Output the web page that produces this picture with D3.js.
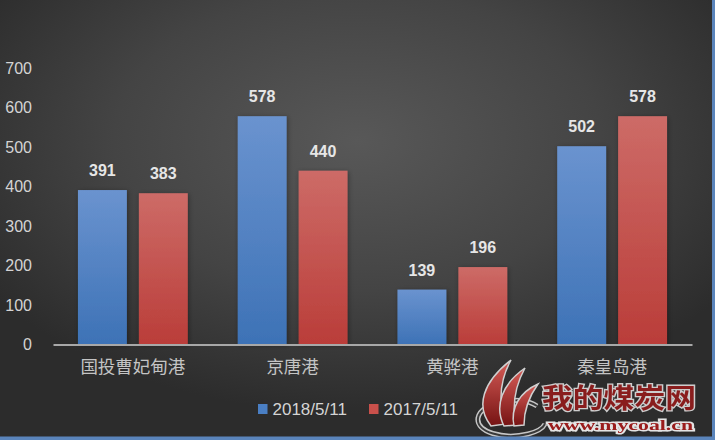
<!DOCTYPE html>
<html>
<head>
<meta charset="utf-8">
<script src="https://cdn.jsdelivr.net/npm/d3@7"></script>
<style>
  html, body { margin: 0; padding: 0; background: #333; }
  svg { display: block; }
</style>
</head>
<body>
<svg id="chart" width="715" height="440"></svg>
<script>
// ---- data ----
const categories = ["国投曹妃甸港", "京唐港", "黄骅港", "秦皇岛港"];
const seriesNames = ["2018/5/11", "2017/5/11"];
const values2018 = [391, 578, 139, 502];
const values2017 = [383, 440, 196, 578];
const yTicks = [0, 100, 200, 300, 400, 500, 600, 700];

const seriesValues = [values2018, values2017];
const rows = categories.map((c, i) => ({
  category: c,
  items: seriesNames.map((s, j) => ({ series: s, value: seriesValues[j][i] }))
}));

const W = 715, H = 440;
const svg = d3.select("#chart");
const defs = svg.append("defs");

// background radial gradient
const bg = defs.append("radialGradient").attr("id", "bgGrad")
  .attr("cx", "50%").attr("cy", "32%").attr("r", "62%")
  .attr("fx", "50%").attr("fy", "32%");
bg.append("stop").attr("offset", "0%").attr("stop-color", "#585858");
bg.append("stop").attr("offset", "55%").attr("stop-color", "#444444");
bg.append("stop").attr("offset", "100%").attr("stop-color", "#2c2c2c");

const grads = [
  { id: "gBlue", top: "#6a93cf", bottom: "#3d72b6" },
  { id: "gRed", top: "#cd6b67", bottom: "#ba3d39" }
];
grads.forEach(g => {
  const lg = defs.append("linearGradient").attr("id", g.id)
    .attr("x1", 0).attr("y1", 0).attr("x2", 0).attr("y2", 1);
  lg.append("stop").attr("offset", "0%").attr("stop-color", g.top);
  lg.append("stop").attr("offset", "100%").attr("stop-color", g.bottom);
});
const fl = defs.append("linearGradient").attr("id", "flameGrad")
  .attr("x1", 0).attr("y1", 0).attr("x2", 0).attr("y2", 1);
fl.append("stop").attr("offset", "0%").attr("stop-color", "#e0605a");
fl.append("stop").attr("offset", "100%").attr("stop-color", "#7a1212");

const shadow = defs.append("filter").attr("id", "barShadow")
  .attr("x", "-20%").attr("y", "-10%").attr("width", "140%").attr("height", "120%");
shadow.append("feDropShadow").attr("dx", 1).attr("dy", 1)
  .attr("stdDeviation", 2.5).attr("flood-color", "#000").attr("flood-opacity", 0.35);

svg.append("rect").attr("width", W).attr("height", H).attr("fill", "url(#bgGrad)");

// ---- scales ----
const x0 = d3.scaleBand().domain(categories).range([53, 692]).paddingInner(0).paddingOuter(0);
const x1 = d3.scaleBand().domain(seriesNames).range([0, x0.bandwidth()])
  .paddingInner(0.197).paddingOuter(0.41);
const y = d3.scaleLinear().domain([0, 700]).range([344.5, 68]);
const color = d3.scaleOrdinal().domain(seriesNames).range(["url(#gBlue)", "url(#gRed)"]);
const legendColor = d3.scaleOrdinal().domain(seriesNames).range(["#4a7fc4", "#c9504b"]);

// ---- y axis labels ----
const yAxis = d3.axisLeft(y).tickValues(yTicks).tickSize(0).tickPadding(0);
const yg = svg.append("g").attr("transform", "translate(32,0)").call(yAxis);
yg.select(".domain").remove();
yg.selectAll("text")
  .attr("fill", "#d4d4d4")
  .attr("font-family", "'Liberation Sans', Arial, sans-serif")
  .attr("font-size", 16);

// ---- bars ----
const groups = svg.append("g").selectAll("g").data(rows).join("g")
  .attr("transform", d => `translate(${x0(d.category)},0)`);

groups.selectAll("rect").data(d => d.items).join("rect")
  .attr("x", d => x1(d.series))
  .attr("y", d => y(d.value))
  .attr("width", x1.bandwidth())
  .attr("height", d => y(0) - y(d.value))
  .attr("fill", d => color(d.series))
  .attr("filter", "url(#barShadow)");

groups.selectAll("text.val").data(d => d.items).join("text")
  .attr("class", "val")
  .attr("x", d => x1(d.series) + x1.bandwidth() / 2)
  .attr("y", d => y(d.value) - 14)
  .attr("text-anchor", "middle")
  .attr("fill", "#e6e6e6")
  .attr("font-family", "'Liberation Sans', Arial, sans-serif")
  .attr("font-weight", "bold")
  .attr("font-size", 16)
  .text(d => d.value);

// ---- x axis ----
const xAxis = d3.axisBottom(x0).tickSize(0).tickPadding(0);
const xg = svg.append("g").attr("transform", `translate(0,${y(0)})`).call(xAxis);
xg.select(".domain").attr("stroke", "#a8a8a8").attr("stroke-width", 2);
xg.selectAll("text")
  .attr("dy", null)
  .attr("y", 28.5)
  .attr("fill", "#c4c4c4")
  .attr("font-family", "'Noto Sans CJK SC', sans-serif")
  .attr("font-size", 17.5);

// ---- legend ----
const legendX = d3.scaleOrdinal().domain(seriesNames).range([258, 369]);
const lg = svg.append("g").selectAll("g").data(seriesNames).join("g")
  .attr("transform", d => `translate(${legendX(d)},404)`);
lg.append("rect").attr("width", 9.5).attr("height", 10).attr("fill", d => legendColor(d));
lg.append("text").attr("x", 14.5).attr("y", 11)
  .attr("fill", "#d4d4d4")
  .attr("font-family", "'Liberation Sans', Arial, sans-serif")
  .attr("font-size", 17)
  .text(d => d);

// ---- watermark (logo) ----
const wm = svg.append("g").attr("opacity", 0.95);
const logo = wm.append("g").attr("transform", "translate(473,360)");
const swoosh = "M64 46 C45 34 8 42 5 58 C3 72 30 80 55 74 C63 72 70 68 72 64";
logo.append("path").attr("d", swoosh)
  .attr("fill", "none").attr("stroke", "#cfcfcf").attr("stroke-width", 5);
logo.append("path").attr("d", swoosh)
  .attr("fill", "none").attr("stroke", "#3a3a3a").attr("stroke-width", 2);
const flames = [
  "M18 66 C2 46 10 22 38 0 C27 20 25 42 33 64 Z",
  "M31 66 C21 46 29 24 52 8 C41 28 39 46 43 65 Z",
  "M41 66 C37 48 47 32 65 24 C55 38 51 50 51 65 Z"
];
logo.selectAll("path.flame").data(flames).join("path")
  .attr("class", "flame")
  .attr("d", d => d)
  .attr("fill", "url(#flameGrad)")
  .attr("stroke", "#d9d9d9").attr("stroke-width", 1.5);

wm.append("g").attr("transform", "translate(542,408) scale(1,1.2)")
  .append("text")
  .attr("x", 0).attr("y", 0)
  .attr("font-family", "'Noto Sans CJK SC', sans-serif")
  .attr("font-weight", "bold")
  .attr("font-size", 23)
  .attr("textLength", 154).attr("lengthAdjust", "spacingAndGlyphs")
  .attr("fill", "#8f1d1d")
  .attr("stroke", "#d6d6d6").attr("stroke-width", 2.2)
  .attr("paint-order", "stroke")
  .text("我的煤炭网");
wm.append("text")
  .attr("x", 548).attr("y", 429.5)
  .attr("font-family", "'Liberation Serif', 'DejaVu Serif', serif")
  .attr("font-weight", "bold")
  .attr("font-size", 14)
  .attr("textLength", 145).attr("lengthAdjust", "spacingAndGlyphs")
  .attr("fill", "#a01c1c")
  .attr("stroke", "#eeeeee").attr("stroke-width", 3)
  .attr("paint-order", "stroke")
  .text("www.mycoal.cn");

// ---- frame (blue edges right & bottom) ----
svg.append("rect").attr("x", 712).attr("y", 0).attr("width", 3).attr("height", H).attr("fill", "#5a84bb");
svg.append("rect").attr("x", 0).attr("y", 436.5).attr("width", W).attr("height", 3.5).attr("fill", "#5a84bb");
</script>
</body>
</html>
